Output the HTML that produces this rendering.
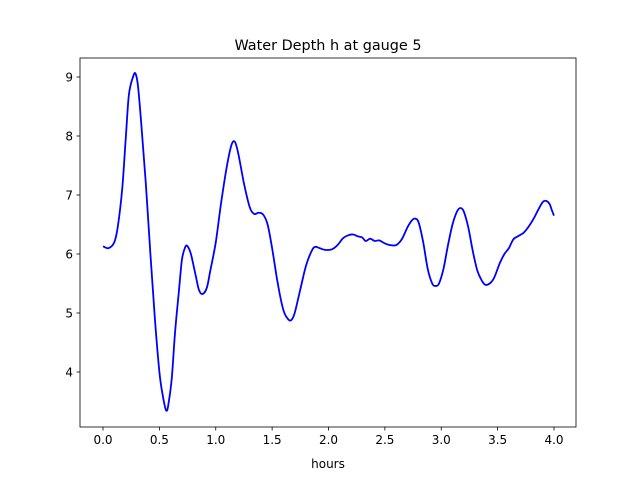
<!DOCTYPE html>
<html><head><meta charset="utf-8"><style>body{margin:0;background:#fff}svg{display:block;font-family:"DejaVu Sans","Liberation Sans",sans-serif}</style></head>
<body>
<svg id="chart" width="640" height="480">
<rect width="640" height="480" fill="#fff"/>
<text x="328" y="50" text-anchor="middle" font-size="14.4">Water Depth h at gauge 5</text>
<g id="axes"></g>
<text x="328" y="468" text-anchor="middle" font-size="12">hours</text>
</svg>
<script>
const times=[0,0.05,0.1,0.13,0.17,0.2,0.23,0.27,0.29,0.31,0.34,0.38,0.42,0.46,0.5,0.53,0.56,0.58,0.61,0.64,0.67,0.7,0.73,0.75,0.78,0.82,0.85,0.88,0.92,0.95,1.0,1.05,1.1,1.14,1.17,1.2,1.25,1.3,1.34,1.38,1.42,1.46,1.5,1.55,1.6,1.64,1.67,1.7,1.75,1.8,1.85,1.88,1.92,1.97,2.03,2.08,2.13,2.18,2.22,2.26,2.3,2.33,2.37,2.41,2.45,2.5,2.55,2.6,2.65,2.7,2.74,2.77,2.8,2.84,2.88,2.92,2.95,2.98,3.02,3.06,3.1,3.14,3.17,3.2,3.24,3.28,3.32,3.36,3.39,3.43,3.47,3.52,3.56,3.6,3.64,3.68,3.73,3.77,3.82,3.86,3.9,3.93,3.96,3.98,4.0];
const depths=[6.13,6.1,6.2,6.45,7.1,7.9,8.7,9.02,9.05,8.85,8.2,7.2,6.0,4.9,4.0,3.6,3.35,3.45,3.9,4.7,5.3,5.9,6.12,6.13,6.0,5.65,5.4,5.32,5.42,5.7,6.2,6.9,7.5,7.85,7.9,7.7,7.2,6.8,6.68,6.7,6.67,6.5,6.1,5.5,5.05,4.9,4.88,5.0,5.4,5.8,6.05,6.12,6.1,6.07,6.08,6.15,6.27,6.32,6.33,6.3,6.28,6.22,6.26,6.22,6.23,6.18,6.15,6.15,6.25,6.45,6.57,6.6,6.53,6.2,5.75,5.5,5.46,5.5,5.75,6.15,6.5,6.72,6.78,6.72,6.45,6.05,5.72,5.55,5.48,5.5,5.6,5.85,6.0,6.1,6.25,6.3,6.36,6.45,6.6,6.75,6.88,6.9,6.85,6.75,6.65];
const xTicks=[0,0.5,1,1.5,2,2.5,3,3.5,4];
const xTickLabels=["0.0","0.5","1.0","1.5","2.0","2.5","3.0","3.5","4.0"];
const yTicks=[4,5,6,7,8,9];
const yTickLabels=["4","5","6","7","8","9"];
const NS="http://www.w3.org/2000/svg";
const g=document.getElementById('axes');
const L=80,R=576,T=58,B=427;
const xs=t=>103+t*112.75;
const ys=h=>77+(9-h)*59;
function mk(tag,a){const e=document.createElementNS(NS,tag);for(const k in a)e.setAttribute(k,a[k]);g.appendChild(e);return e;}
const P=times.map((t,i)=>[xs(t),ys(depths[i])]);
let d='M'+P[0][0].toFixed(1)+','+P[0][1].toFixed(1);
for(let i=0;i<P.length-1;i++){
  const p0=P[Math.max(0,i-1)],p1=P[i],p2=P[i+1],p3=P[Math.min(P.length-1,i+2)];
  const c1x=p1[0]+(p2[0]-p0[0])/6,c1y=p1[1]+(p2[1]-p0[1])/6;
  const c2x=p2[0]-(p3[0]-p1[0])/6,c2y=p2[1]-(p3[1]-p1[1])/6;
  d+='C'+c1x.toFixed(1)+','+c1y.toFixed(1)+' '+c2x.toFixed(1)+','+c2y.toFixed(1)+' '+p2[0].toFixed(1)+','+p2[1].toFixed(1);
}
const line=mk('path',{d:d,fill:'none',stroke:'#0000ff','stroke-width':1.8,'stroke-linejoin':'round'});


const frame=mk('rect',{x:L,y:T,width:R-L,height:B-T,fill:'none',stroke:'#000','stroke-width':0.8});


xTicks.forEach((t,i)=>{
  const x=xs(t);
  const tk=mk('line',{x1:x,x2:x,y1:B,y2:B+3.5,stroke:'#000','stroke-width':0.8});
  
  
  const tx=mk('text',{x:x,y:B+17,'text-anchor':'middle','font-size':12});
  tx.textContent=xTickLabels[i];
  
  
});
yTicks.forEach((h,i)=>{
  const y=ys(h);
  const tk=mk('line',{x1:L-3.5,x2:L,y1:y,y2:y,stroke:'#000','stroke-width':0.8});
  
  
  const tx=mk('text',{x:L-7,y:y+4.5,'text-anchor':'end','font-size':12});
  tx.textContent=yTickLabels[i];
  
  
});
</script>
</body></html>
